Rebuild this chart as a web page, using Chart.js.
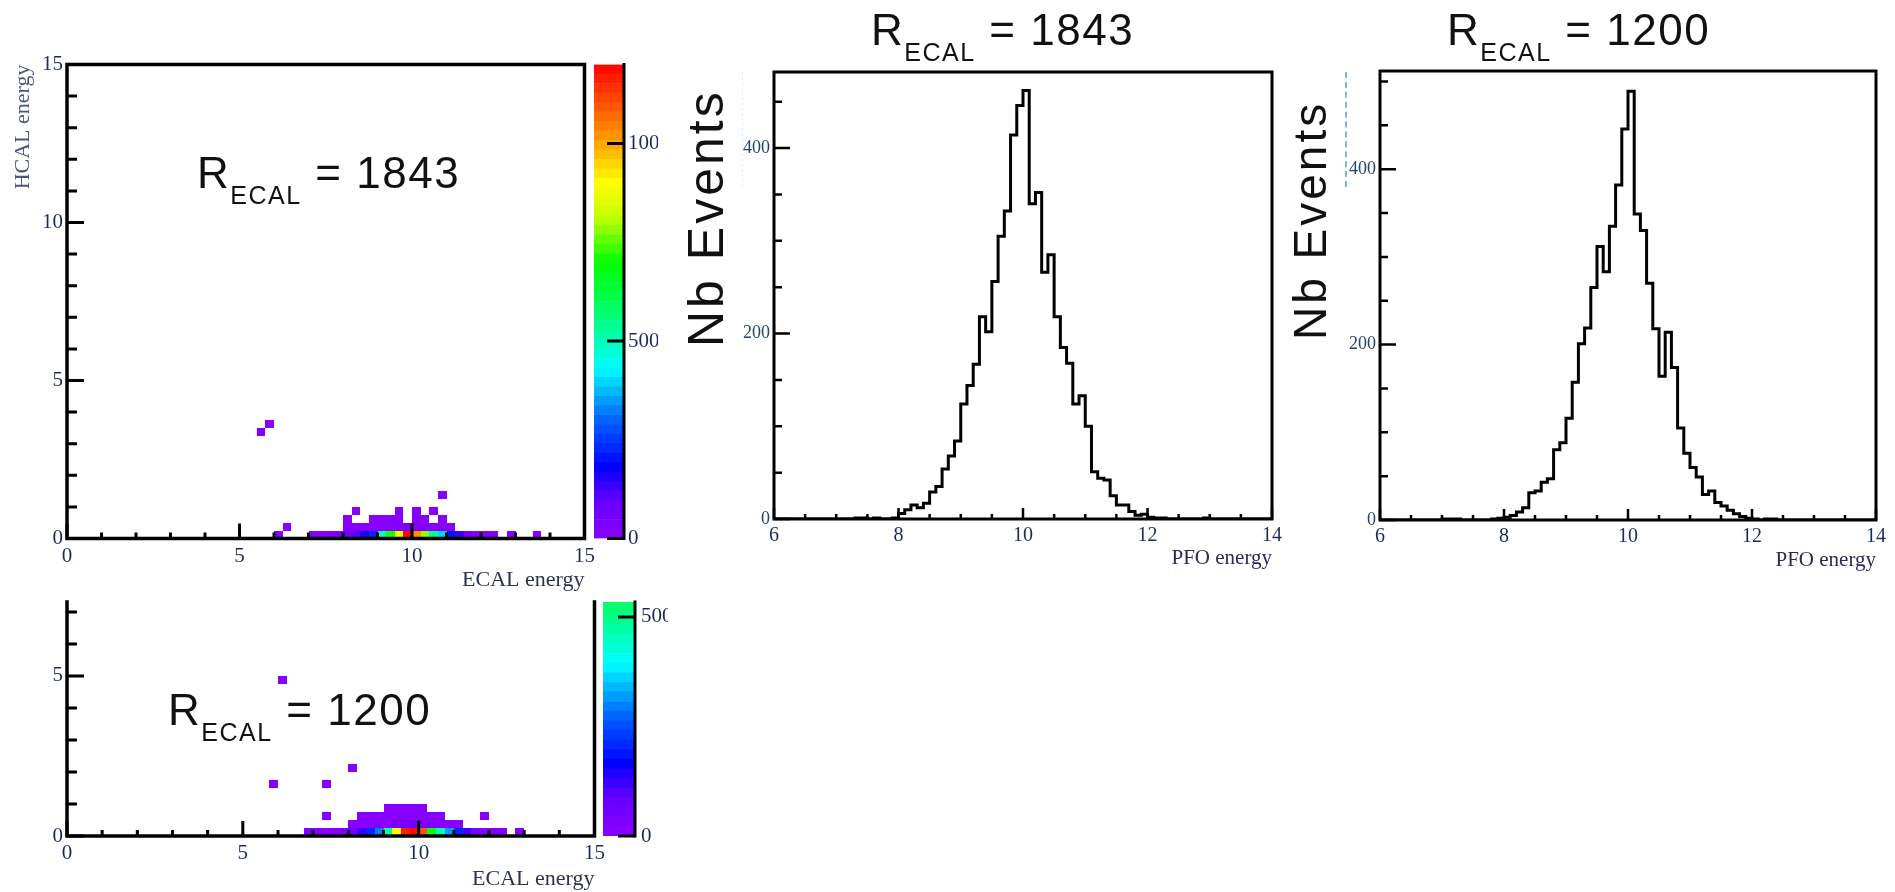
<!DOCTYPE html>
<html>
<head>
<meta charset="utf-8">
<script src="https://cdn.jsdelivr.net/npm/chart.js@4.4.1/dist/chart.umd.min.js"></script>
<style>
html, body { margin: 0; padding: 0; background: #fff; }
body { width: 1895px; height: 892px; position: relative; overflow: hidden; font-family: 'Liberation Sans', Arial, sans-serif; }
.box { position: absolute; }
.box canvas, .clip canvas { display: block; }
.clip { position: absolute; overflow: hidden; }
.rlabel { position: absolute; font-size: 44px; line-height: 44px; letter-spacing: 1.5px; white-space: nowrap; color: #111; }
.rlabel sub { font-size: 25px; vertical-align: baseline; position: relative; top: 16px; }
.nb { position: absolute; white-space: nowrap; transform-origin: 0 0; transform: rotate(-90deg); color: #111; letter-spacing: 3px; }
.dash { position: absolute; width: 0; }
</style>
</head>
<body>

<div class="box" style="left:0;top:0"><canvas id="heat1843" width="600" height="600"></canvas></div>
<div class="clip" style="left:594px;top:0;width:64px;height:600px"><canvas id="bar1843" width="100" height="600"></canvas></div>
<div class="box" style="left:0;top:560px"><canvas id="heat1200" width="610" height="332"></canvas></div>
<div class="clip" style="left:603px;top:560px;width:65px;height:332px"><canvas id="bar1200" width="100" height="332"></canvas></div>
<div class="box" style="left:680px;top:0"><canvas id="hist1843" width="620" height="600"></canvas></div>
<div class="box" style="left:1300px;top:0"><canvas id="hist1200" width="595" height="600"></canvas></div>

<div class="rlabel" style="left:197px;top:151px">R<sub>ECAL</sub> = 1843</div>
<div class="rlabel" style="left:168px;top:688px">R<sub>ECAL</sub> = 1200</div>
<div class="rlabel" style="left:871px;top:8px">R<sub>ECAL</sub> = 1843</div>
<div class="rlabel" style="left:1447px;top:8px">R<sub>ECAL</sub> = 1200</div>

<div class="nb" style="left:681px;top:347px;font-size:50px;line-height:50px">Nb Events</div>
<div class="nb" style="left:1287px;top:340px;font-size:46px;line-height:46px">Nb Events</div>

<div class="dash" style="left:742px;top:72px;height:115px;border-left:1px dashed #e3f1f5"></div>
<div class="dash" style="left:1345px;top:72px;height:115px;border-left:2px dashed #7db6de"></div>

<script>
// ---------- data ----------
const BIN2D = 0.25;
// [ECAL bin low edge, HCAL bin low edge, entries]
const cells1843 = [
  [6.0,0,2],[7.0,0,4],[7.25,0,7],[7.5,0,12],[7.75,0,25],
  [8.0,0,60],[8.25,0,110],[8.5,0,165],[8.75,0,230],
  [9.0,0,500],[9.25,0,700],[9.5,0,880],[9.75,0,1180],
  [10.0,0,1030],[10.25,0,790],[10.5,0,540],[10.75,0,390],
  [11.0,0,200],[11.25,0,120],[11.5,0,40],[11.75,0,20],[12.0,0,10],[12.25,0,4],
  [12.75,0,2],[13.5,0,1],
  [6.25,0.25,1],
  [8.0,0.25,3],[8.25,0.25,5],[8.5,0.25,8],[8.75,0.25,10],[9.0,0.25,14],[9.25,0.25,18],
  [9.5,0.25,40],[9.75,0.25,25],[10.0,0.25,20],[10.25,0.25,15],[10.5,0.25,10],[10.75,0.25,6],[11.0,0.25,3],
  [8.0,0.5,2],[8.75,0.5,3],[9.0,0.5,4],[9.25,0.5,5],[9.5,0.5,4],[10.0,0.5,4],[10.25,0.5,3],[10.75,0.5,2],
  [8.25,0.75,1],[9.5,0.75,2],[10.0,0.75,1],[10.5,0.75,1],
  [10.75,1.25,1],
  [5.5,3.25,1],[5.75,3.5,1]
];
const cells1200 = [
  [6.75,0,2],[7.0,0,4],[7.25,0,8],[7.5,0,15],[7.75,0,30],
  [8.0,0,60],[8.25,0,130],[8.5,0,200],[8.75,0,300],
  [9.0,0,480],[9.25,0,820],[9.5,0,1060],[9.75,0,1090],
  [10.0,0,1000],[10.25,0,620],[10.5,0,480],[10.75,0,320],
  [11.0,0,200],[11.25,0,110],[11.5,0,40],[11.75,0,20],[12.0,0,10],[12.25,0,4],[12.75,0,1],
  [8.0,0.25,3],[8.25,0.25,6],[8.5,0.25,10],[8.75,0.25,15],[9.0,0.25,20],[9.25,0.25,30],
  [9.5,0.25,60],[9.75,0.25,45],[10.0,0.25,40],[10.25,0.25,25],[10.5,0.25,15],[10.75,0.25,8],[11.0,0.25,4],
  [7.25,0.5,1],[8.25,0.5,2],[8.5,0.5,3],[8.75,0.5,4],[9.0,0.5,6],[9.25,0.5,8],[9.5,0.5,8],
  [9.75,0.5,6],[10.0,0.5,4],[10.25,0.5,3],[10.5,0.5,2],[11.75,0.5,1],
  [9.0,0.75,1],[9.25,0.75,2],[9.5,0.75,2],[9.75,0.75,2],[10.0,0.75,1],
  [5.75,1.5,1],[7.25,1.5,1],[8.0,2.0,1],[6.0,4.75,1]
];
const zMax1843 = 1200;
const zMax1200 = 1096;

// PFO energy histograms, 0.1 wide bins from 6 to 14
const PFO_LO = 6, PFO_HI = 14, PFO_BIN = 0.1;
const nb1843 = [
  0,0,0,0,0,0,0,0,0,0,
  0,0,0,1,1,0,1,0,0,1,
  6,10,15,12,17,29,35,54,68,84,
  124,144,167,218,202,256,305,332,414,446,
  462,340,352,266,285,218,185,168,124,133,
  100,51,44,42,25,15,15,8,4,5,
  2,1,1,0,0,0,0,0,0,1,
  0,0,0,0,0,0,0,0,0,0
];
const nb1200 = [
  0,0,0,0,0,0,0,0,0,0,
  1,1,1,0,0,0,0,0,1,2,
  3,5,9,14,31,33,43,47,80,88,
  116,157,201,219,265,312,283,335,382,446,
  489,349,330,270,218,164,214,174,105,76,
  60,49,29,33,20,16,11,7,4,2,
  1,0,1,1,0,0,0,0,0,0,
  0,0,0,0,0,0,0,0,0,0
];

// tick labels
const ticks2d = [0, 5, 10, 15];
const ticks2dBottomY = [0, 5];
const ticksPfo = [6, 8, 10, 12, 14];
const ticksNb = [0, 200, 400];
const ticksBar1843 = [0, 500, 1000];
const ticksBar1200 = [0, 500];

// ---------- helpers ----------
const serif = "'Liberation Serif', 'Times New Roman', serif";
const navy = '#1d2b5c';
const NCOL = 50;
const paletteStops = [
  [0.00, [140, 0, 255]],
  [0.08, [100, 0, 255]],
  [0.15, [0, 0, 255]],
  [0.25, [0, 100, 255]],
  [0.36, [0, 255, 255]],
  [0.46, [0, 255, 128]],
  [0.58, [0, 255, 0]],
  [0.68, [200, 255, 0]],
  [0.75, [255, 255, 0]],
  [0.86, [255, 136, 0]],
  [1.00, [255, 0, 0]]
];
function palette(f) {
  f = Math.min(1, Math.max(0, f));
  for (let i = 1; i < paletteStops.length; i++) {
    const [p1, c1] = paletteStops[i];
    if (f <= p1) {
      const [p0, c0] = paletteStops[i - 1];
      const t = (f - p0) / (p1 - p0);
      return 'rgb(' + c0.map((c, k) => Math.round(c + (c1[k] - c) * t)).join(',') + ')';
    }
  }
  return 'rgb(255,0,0)';
}
function between(lo, hi, step, skip) {
  const out = [];
  for (let v = lo; v <= hi + 1e-9; v += step) {
    const r = Math.round(v * 1000) / 1000;
    if (!skip.includes(r)) out.push(r);
  }
  return out;
}
const setTicks = arr => s => { s.ticks = arr.map(v => ({ value: v })); };

// colored bins of a 2D histogram
const heatCells = {
  id: 'heatCells',
  beforeDatasetsDraw(chart, args, o) {
    const { ctx, chartArea: a, scales: { x, y } } = chart;
    ctx.save();
    ctx.beginPath();
    ctx.rect(a.left, a.top, a.width, a.height);
    ctx.clip();
    chart.data.datasets[0].data.forEach(c => {
      const x0 = Math.round(x.getPixelForValue(c.x)), x1 = Math.round(x.getPixelForValue(c.x + o.bin));
      const y0 = Math.round(y.getPixelForValue(c.y)), y1 = Math.round(y.getPixelForValue(c.y + o.bin));
      const z = Math.min(NCOL - 1, Math.floor(c.v / o.max * NCOL));
      ctx.fillStyle = palette((z + 0.5) / NCOL);
      ctx.fillRect(x0, y1, x1 - x0, y0 - y1);
    });
    ctx.restore();
  }
};

// ROOT-like frame with inward ticks
const rootFrame = {
  id: 'rootFrame',
  afterDraw(chart, args, o) {
    const { ctx, chartArea: a } = chart;
    const xs = chart.scales.x, ys = chart.scales.y;
    ctx.save();
    ctx.strokeStyle = '#000';
    ctx.lineWidth = o.tickWidth;
    ctx.beginPath();
    const xt = (vals, len) => (vals || []).forEach(v => {
      const p = xs.getPixelForValue(v);
      ctx.moveTo(p, a.bottom); ctx.lineTo(p, a.bottom - len);
    });
    const yt = (vals, len) => (vals || []).forEach(v => {
      const p = ys.getPixelForValue(v);
      if (p < a.top - 1) return;
      if (o.ySide === 'right') { ctx.moveTo(a.right, p); ctx.lineTo(a.right - len, p); }
      else { ctx.moveTo(a.left, p); ctx.lineTo(a.left + len, p); }
    });
    xt(o.xMajor, o.xMajorLen); xt(o.xMinor, o.xMinorLen);
    yt(o.yMajor, o.yMajorLen); yt(o.yMinor, o.yMinorLen);
    ctx.stroke();
    ctx.lineWidth = o.frameWidth;
    ctx.lineCap = 'square';
    ctx.beginPath();
    const s = o.sides;
    if (s.includes('t')) { ctx.moveTo(a.left, a.top); ctx.lineTo(a.right, a.top); }
    if (s.includes('r')) { ctx.moveTo(a.right, a.top); ctx.lineTo(a.right, a.bottom); }
    if (s.includes('b')) { ctx.moveTo(a.left, a.bottom); ctx.lineTo(a.right, a.bottom); }
    if (s.includes('l')) { ctx.moveTo(a.left, a.top); ctx.lineTo(a.left, a.bottom); }
    ctx.stroke();
    ctx.restore();
  }
};

const base = {
  animation: false, responsive: false, devicePixelRatio: 1, events: []
};

function makeHeat(id, cells, c) {
  return new Chart(document.getElementById(id), {
    type: 'scatter',
    data: { datasets: [{ data: cells.map(d => ({ x: d[0], y: d[1], v: d[2] })), pointRadius: 0, pointHoverRadius: 0 }] },
    options: Object.assign({}, base, {
      layout: { padding: c.padding },
      plugins: {
        legend: { display: false }, tooltip: { enabled: false },
        heatCells: { bin: BIN2D, max: c.zMax },
        rootFrame: {
          sides: c.sides, frameWidth: 3.5, tickWidth: 3,
          xMajor: ticks2d, xMinor: between(0, 15, 1, ticks2d), xMajorLen: 15, xMinorLen: 6,
          yMajor: c.yTicks, yMinor: between(0, c.yMax, 1, c.yTicks), yMajorLen: 17, yMinorLen: 10
        }
      },
      scales: {
        x: {
          type: 'linear', min: 0, max: 15,
          grid: { display: false, drawTicks: false }, border: { display: false },
          afterFit: s => { s.height = c.xAxisH; },
          afterBuildTicks: setTicks(ticks2d),
          ticks: { font: { family: serif, size: 21 }, color: navy, padding: 5, maxRotation: 0, autoSkip: false, callback: v => String(v) },
          title: { display: true, text: 'ECAL energy', align: 'end', color: '#2b3350', font: { family: serif, size: 22 }, padding: { top: 0, bottom: c.xTitlePad } }
        },
        y: {
          type: 'linear', min: 0, max: c.yMax,
          grid: { display: false, drawTicks: false }, border: { display: false },
          afterFit: s => { s.width = 67; },
          afterBuildTicks: setTicks(c.yTicks),
          ticks: { font: { family: serif, size: 21 }, color: navy, padding: 4, autoSkip: false, callback: v => String(v) },
          title: { display: !!c.yTitle, text: c.yTitle || '', align: 'end', color: '#4a5878', font: { family: serif, size: 22 }, padding: { top: 10, bottom: 0 } }
        }
      }
    }),
    plugins: [heatCells, rootFrame]
  });
}

function makeBar(id, zMax, visMax, majors, c) {
  const bands = [];
  for (let i = 0; i < NCOL; i++) {
    bands.push({
      data: [[zMax * i / NCOL, zMax * (i + 1) / NCOL]],
      backgroundColor: palette((i + 0.5) / NCOL),
      borderWidth: 0, grouped: false, barPercentage: 1, categoryPercentage: 1
    });
  }
  return new Chart(document.getElementById(id), {
    type: 'bar',
    data: { labels: [''], datasets: bands },
    options: Object.assign({}, base, {
      layout: { padding: c.padding },
      plugins: {
        legend: { display: false }, tooltip: { enabled: false },
        rootFrame: { sides: 'r', frameWidth: 3, tickWidth: 3, ySide: 'right', yMajor: majors, yMajorLen: 17 }
      },
      scales: {
        x: { display: false },
        y: {
          position: 'right', min: 0, max: visMax,
          grid: { display: false, drawTicks: false }, border: { display: false },
          afterFit: s => { s.width = c.axisW; },
          afterBuildTicks: setTicks(majors),
          ticks: { font: { family: serif, size: 21 }, color: navy, padding: c.labelPad, autoSkip: false, callback: v => String(v) }
        }
      }
    }),
    plugins: [rootFrame]
  });
}

function makeHist(id, counts, c) {
  const pts = counts.map((n, i) => ({ x: PFO_LO + i * PFO_BIN, y: n }));
  pts.push({ x: PFO_HI, y: counts[counts.length - 1] });
  return new Chart(document.getElementById(id), {
    type: 'line',
    data: { datasets: [{ data: pts, stepped: true, borderColor: '#000', borderWidth: 3, pointRadius: 0, fill: false, tension: 0 }] },
    options: Object.assign({}, base, {
      layout: { padding: c.padding },
      plugins: {
        legend: { display: false }, tooltip: { enabled: false },
        rootFrame: {
          sides: 'trbl', frameWidth: 3, tickWidth: 2.5,
          xMajor: ticksPfo, xMinor: between(6, 14, 0.5, ticksPfo), xMajorLen: 11, xMinorLen: 5,
          yMajor: ticksNb, yMinor: between(0, c.yMax, 50, ticksNb), yMajorLen: 16, yMinorLen: 8
        }
      },
      scales: {
        x: {
          type: 'linear', min: PFO_LO, max: PFO_HI,
          grid: { display: false, drawTicks: false }, border: { display: false },
          afterFit: s => { s.height = c.xAxisH; },
          afterBuildTicks: setTicks(ticksPfo),
          ticks: { font: { family: serif, size: 20 }, color: navy, padding: 5, maxRotation: 0, autoSkip: false, callback: v => String(v) },
          title: { display: true, text: 'PFO energy', align: 'end', color: '#2a2a55', font: { family: serif, size: 21 }, padding: { top: 0, bottom: c.xTitlePad } }
        },
        y: {
          type: 'linear', min: 0, max: c.yMax,
          grid: { display: false, drawTicks: false }, border: { display: false },
          afterFit: s => { s.width = c.yAxisW; },
          afterBuildTicks: setTicks(ticksNb),
          ticks: { font: { family: serif, size: 18 }, color: '#24456e', padding: 4, autoSkip: false, callback: v => String(v) }
        }
      }
    }),
    plugins: [rootFrame]
  });
}

// ---------- charts ----------
makeHeat('heat1843', cells1843, {
  zMax: zMax1843, yMax: 15, yTicks: ticks2d, yTitle: 'HCAL energy', sides: 'trbl',
  padding: { left: 0, top: 64.5, right: 11, bottom: 0 }, xAxisH: 61.5, xTitlePad: 7
});
makeBar('bar1843', zMax1843, 1200, ticksBar1843, {
  padding: { left: 0, top: 64.5, right: 0, bottom: 61.5 }, axisW: 70, labelPad: 4
});
makeHeat('heat1200', cells1200, {
  zMax: zMax1200, yMax: 7.31, yTicks: ticks2dBottomY, yTitle: '', sides: 'rbl',
  padding: { left: 0, top: 42, right: 14, bottom: 0 }, xAxisH: 56, xTitlePad: 0
});
makeBar('bar1200', zMax1200, 534, ticksBar1200, {
  padding: { left: 0, top: 42, right: 0, bottom: 56 }, axisW: 68, labelPad: 6
});
makeHist('hist1843', nb1843, {
  yMax: 482, yAxisW: 94, padding: { left: 0, top: 72, right: 28, bottom: 0 }, xAxisH: 81, xTitlePad: 29
});
makeHist('hist1200', nb1200, {
  yMax: 512, yAxisW: 80, padding: { left: 0, top: 71, right: 19, bottom: 0 }, xAxisH: 80, xTitlePad: 27
});
</script>
</body>
</html>
